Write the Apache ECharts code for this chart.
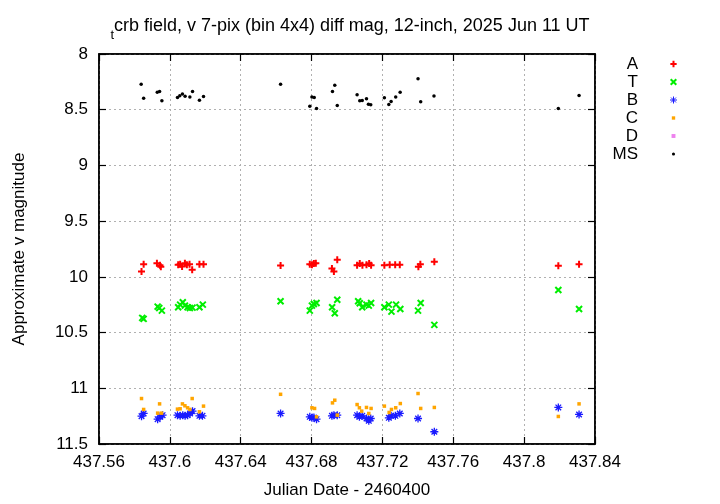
<!DOCTYPE html>
<html><head><meta charset="utf-8">
<script src="https://cdn.jsdelivr.net/npm/echarts@6/dist/echarts.min.js"></script>
<style>html,body{margin:0;padding:0;background:#fff}#c{width:720px;height:504px}</style>
</head><body><div id="c"></div>
<script>
const xTicks = [437.56, 437.6, 437.64, 437.68, 437.72, 437.76, 437.8, 437.84];
const yTicks = [8, 8.5, 9, 9.5, 10, 10.5, 11, 11.5];
const seriesNames = ['A', 'T', 'B', 'C', 'D', 'MS'];

const dataA = [[437.5840,9.951],[437.5852,9.886],[437.5927,9.877],[437.5944,9.895],[437.5949,9.910],
[437.6047,9.892],[437.6058,9.886],[437.6069,9.906],[437.6085,9.877],[437.6096,9.892],[437.6111,9.886],
[437.6126,9.937],[437.6167,9.886],[437.6190,9.886],[437.6625,9.897],
[437.6790,9.886],[437.6802,9.892],[437.6813,9.880],[437.6824,9.877],[437.6915,9.924],[437.6926,9.951],
[437.6945,9.847],[437.7057,9.895],[437.7072,9.880],[437.7087,9.895],[437.7110,9.892],[437.7125,9.880],
[437.7136,9.895],[437.7211,9.895],[437.7241,9.892],[437.7272,9.892],[437.7298,9.892],[437.7403,9.910],
[437.7414,9.886],[437.7493,9.865],[437.8193,9.900],[437.8310,9.886]];

const dataT = [[437.5844,10.368],[437.5852,10.377],[437.5931,10.267],[437.5940,10.279],[437.5955,10.303],
[437.6047,10.273],[437.6058,10.249],[437.6073,10.228],[437.6085,10.258],[437.6100,10.273],[437.6113,10.279],
[437.6128,10.276],[437.6167,10.273],[437.6186,10.249],[437.6625,10.219],
[437.6790,10.303],[437.6802,10.258],[437.6813,10.243],[437.6828,10.234],[437.6916,10.273],[437.6931,10.326],
[437.6945,10.205],[437.7063,10.219],[437.7072,10.237],[437.7086,10.273],[437.7110,10.249],[437.7123,10.258],
[437.7136,10.234],[437.7211,10.273],[437.7236,10.249],[437.7251,10.312],[437.7277,10.249],[437.7301,10.288],
[437.7401,10.303],[437.7416,10.234],[437.7493,10.431],[437.8193,10.118],[437.8310,10.288]];

const dataB = [[437.5840,11.250],[437.5852,11.226],[437.5931,11.277],[437.5945,11.256],[437.5959,11.241],
[437.6043,11.241],[437.6058,11.247],[437.6073,11.241],[437.6086,11.247],[437.6100,11.241],[437.6114,11.226],
[437.6128,11.205],[437.6167,11.247],[437.6184,11.247],[437.6625,11.226],
[437.6790,11.256],[437.6802,11.265],[437.6813,11.262],[437.6828,11.277],[437.6915,11.247],[437.6926,11.241],
[437.6945,11.241],[437.7057,11.241],[437.7070,11.256],[437.7086,11.247],[437.7110,11.271],[437.7123,11.292],
[437.7134,11.271],[437.7236,11.265],[437.7249,11.247],[437.7273,11.247],[437.7298,11.226],[437.7401,11.271],
[437.7493,11.390],[437.8193,11.172],[437.8310,11.235]];

const dataC = [[437.5840,11.092],[437.5852,11.190],[437.5942,11.140],[437.5931,11.223],[437.5953,11.223],
[437.6043,11.187],[437.6058,11.184],[437.6071,11.140],[437.6085,11.157],[437.6100,11.175],[437.6113,11.190],
[437.6126,11.092],[437.6167,11.211],[437.6190,11.160],[437.6625,11.054],
[437.6802,11.175],[437.6817,11.181],[437.6828,11.256],[437.6918,11.131],[437.6931,11.107],[437.6945,11.241],
[437.7057,11.146],[437.7070,11.175],[437.7083,11.205],[437.7110,11.172],[437.7123,11.226],[437.7136,11.181],
[437.7211,11.160],[437.7238,11.217],[437.7251,11.190],[437.7275,11.175],[437.7301,11.137],[437.7401,11.047],
[437.7416,11.181],[437.7493,11.172],[437.8193,11.253],[437.8310,11.140]];

const dataD = [];

const dataMS = [[437.5838,8.271],[437.5852,8.396],[437.5929,8.343],[437.5942,8.337],[437.5955,8.420],
[437.6043,8.390],[437.6056,8.375],[437.6071,8.360],[437.6086,8.380],[437.6113,8.387],[437.6128,8.337],
[437.6167,8.414],[437.6190,8.381],[437.6625,8.271],
[437.6790,8.470],[437.6802,8.387],[437.6815,8.390],[437.6828,8.490],[437.6918,8.337],[437.6931,8.280],
[437.6945,8.462],[437.7057,8.366],[437.7072,8.420],[437.7086,8.417],[437.7110,8.402],[437.7121,8.450],
[437.7134,8.456],[437.7211,8.393],[437.7236,8.453],[437.7249,8.426],[437.7275,8.387],[437.7300,8.343],
[437.7401,8.223],[437.7416,8.429],[437.7491,8.378],[437.8193,8.489],[437.8310,8.372]];

const FONT = 'Liberation Sans, Arial, Helvetica, sans-serif';
const plusSym = 'path://M0,5L10,5M5,0L5,10';
const crossSym = 'path://M0,0L10,10M0,10L10,0';
const starSym = 'path://M0,5L10,5M5,0L5,10M1.5,1.5L8.5,8.5M1.5,8.5L8.5,1.5';
// legend icons padded to a 10x10 box so they keep the reference's small sizes
const legendIcons = {
  A: 'path://M0,0M10,10M0.5,5L9.5,5M5,0.5L5,9.5',
  T: 'path://M0,0M10,10M1,1L9,9M1,9L9,1',
  B: 'path://M0,0M10,10M0,5L10,5M5,0L5,10M1.5,1.5L8.5,8.5M1.5,8.5L8.5,1.5',
  C: 'path://M0,0M10,10M2.6,2.6L7.4,2.6L7.4,7.4L2.6,7.4Z',
  D: 'path://M0,0M10,10M2.2,2.2L7.8,2.2L7.8,7.8L2.2,7.8Z',
  MS: 'path://M0,0M10,10M2.8,5A2.2,2.2 0 1,0 7.2,5A2.2,2.2 0 1,0 2.8,5Z'
};
const legendBorder = { A: 2, T: 2, B: 1, C: 0, D: 0, MS: 0 };

function sc(name, data, symbol, size, color, bw) {
  return {
    name, type: 'scatter', data, symbol, symbolSize: size, xAxisIndex: 0, yAxisIndex: 0,
    itemStyle: { color: color, borderColor: color, borderWidth: bw, opacity: 1 },
    emphasis: { disabled: true }, animation: false
  };
}

const chart = echarts.init(document.getElementById('c'), null, { renderer: 'canvas' });
const grid = { left: 99, top: 54, right: 125, bottom: 59, show: true, borderColor: '#000', borderWidth: 1.5, backgroundColor: 'transparent' };
const tickStyle = { show: true, inside: true, length: 7, lineStyle: { color: '#000', width: 1.2 } };
const split = { show: true, lineStyle: { color: '#b0b0b0', type: [2, 3], width: 1 } };
const lab = { color: '#000', fontFamily: FONT, fontSize: 17 };

chart.setOption({
  animation: false,
  backgroundColor: '#fff',
  title: {
    text: '{sub|t}{main|crb field, v 7-pix (bin 4x4) diff mag, 12-inch, 2025 Jun 11 UT}',
    left: 345, top: 5, textAlign: 'center',
    textStyle: {
      fontWeight: 'normal',
      rich: {
        sub: { fontFamily: FONT, fontSize: 13, fontWeight: 'normal', color: '#000', verticalAlign: 'bottom', lineHeight: 32 },
        main: { fontFamily: FONT, fontSize: 18, fontWeight: 'normal', color: '#000', verticalAlign: 'middle', lineHeight: 32 }
      }
    }
  },
  legend: {
    orient: 'vertical', right: 37, top: 50, align: 'right',
    itemWidth: 7, itemHeight: 7, itemGap: 0,
    selectedMode: false,
    textStyle: { fontFamily: FONT, fontSize: 17, color: '#000', lineHeight: 18, padding: [0, 27, 0, 0] },
    data: seriesNames.map(n => ({ name: n, icon: legendIcons[n], itemStyle: { borderWidth: legendBorder[n] } }))
  },
  grid: grid,
  xAxis: [{
    type: 'value', min: 437.56, max: 437.84, interval: 0.04,
    position: 'bottom',
    name: 'Julian Date - 2460400', nameLocation: 'middle', nameGap: 38,
    nameTextStyle: { color: '#000', fontFamily: FONT, fontSize: 17 },
    axisLine: { show: true, onZero: false, lineStyle: { color: '#000', width: 1.5 } },
    axisTick: tickStyle, splitLine: split,
    axisLabel: Object.assign({ margin: 10, formatter: v => xTicks.find(t => Math.abs(t - v) < 1e-6) !== undefined ? String(+v.toFixed(2)) : '' }, lab)
  }, {
    type: 'value', min: 437.56, max: 437.84, interval: 0.04, position: 'top',
    axisLine: { show: true, onZero: false, lineStyle: { color: '#000', width: 1.5 } },
    axisTick: tickStyle, splitLine: { show: false }, axisLabel: { show: false }
  }],
  yAxis: [{
    type: 'value', min: 8, max: 11.5, interval: 0.5, inverse: true, position: 'left',
    name: 'Approximate v magnitude', nameLocation: 'middle', nameGap: 71, nameRotate: 90,
    nameTextStyle: { color: '#000', fontFamily: FONT, fontSize: 17 },
    axisLine: { show: true, onZero: false, lineStyle: { color: '#000', width: 1.5 } },
    axisTick: tickStyle, splitLine: split,
    axisLabel: Object.assign({ margin: 11, formatter: v => yTicks.find(t => Math.abs(t - v) < 1e-6) !== undefined ? String(v) : '' }, lab)
  }, {
    type: 'value', min: 8, max: 11.5, interval: 0.5, inverse: true, position: 'right',
    axisLine: { show: true, onZero: false, lineStyle: { color: '#000', width: 1.5 } },
    axisTick: tickStyle, splitLine: { show: false }, axisLabel: { show: false }
  }],
  series: [
    sc('A', dataA, plusSym, 7, '#ff0000', 2),
    sc('T', dataT, crossSym, 6, '#00ee00', 2),
    sc('B', dataB, starSym, 8, '#1a1aff', 1.3),
    sc('C', dataC, 'rect', 3.5, '#ffa500', 0),
    sc('D', dataD, 'rect', 3.5, '#ee82ee', 0),
    sc('MS', dataMS, 'circle', 3.5, '#000000', 0)
  ]
});
</script></body></html>
